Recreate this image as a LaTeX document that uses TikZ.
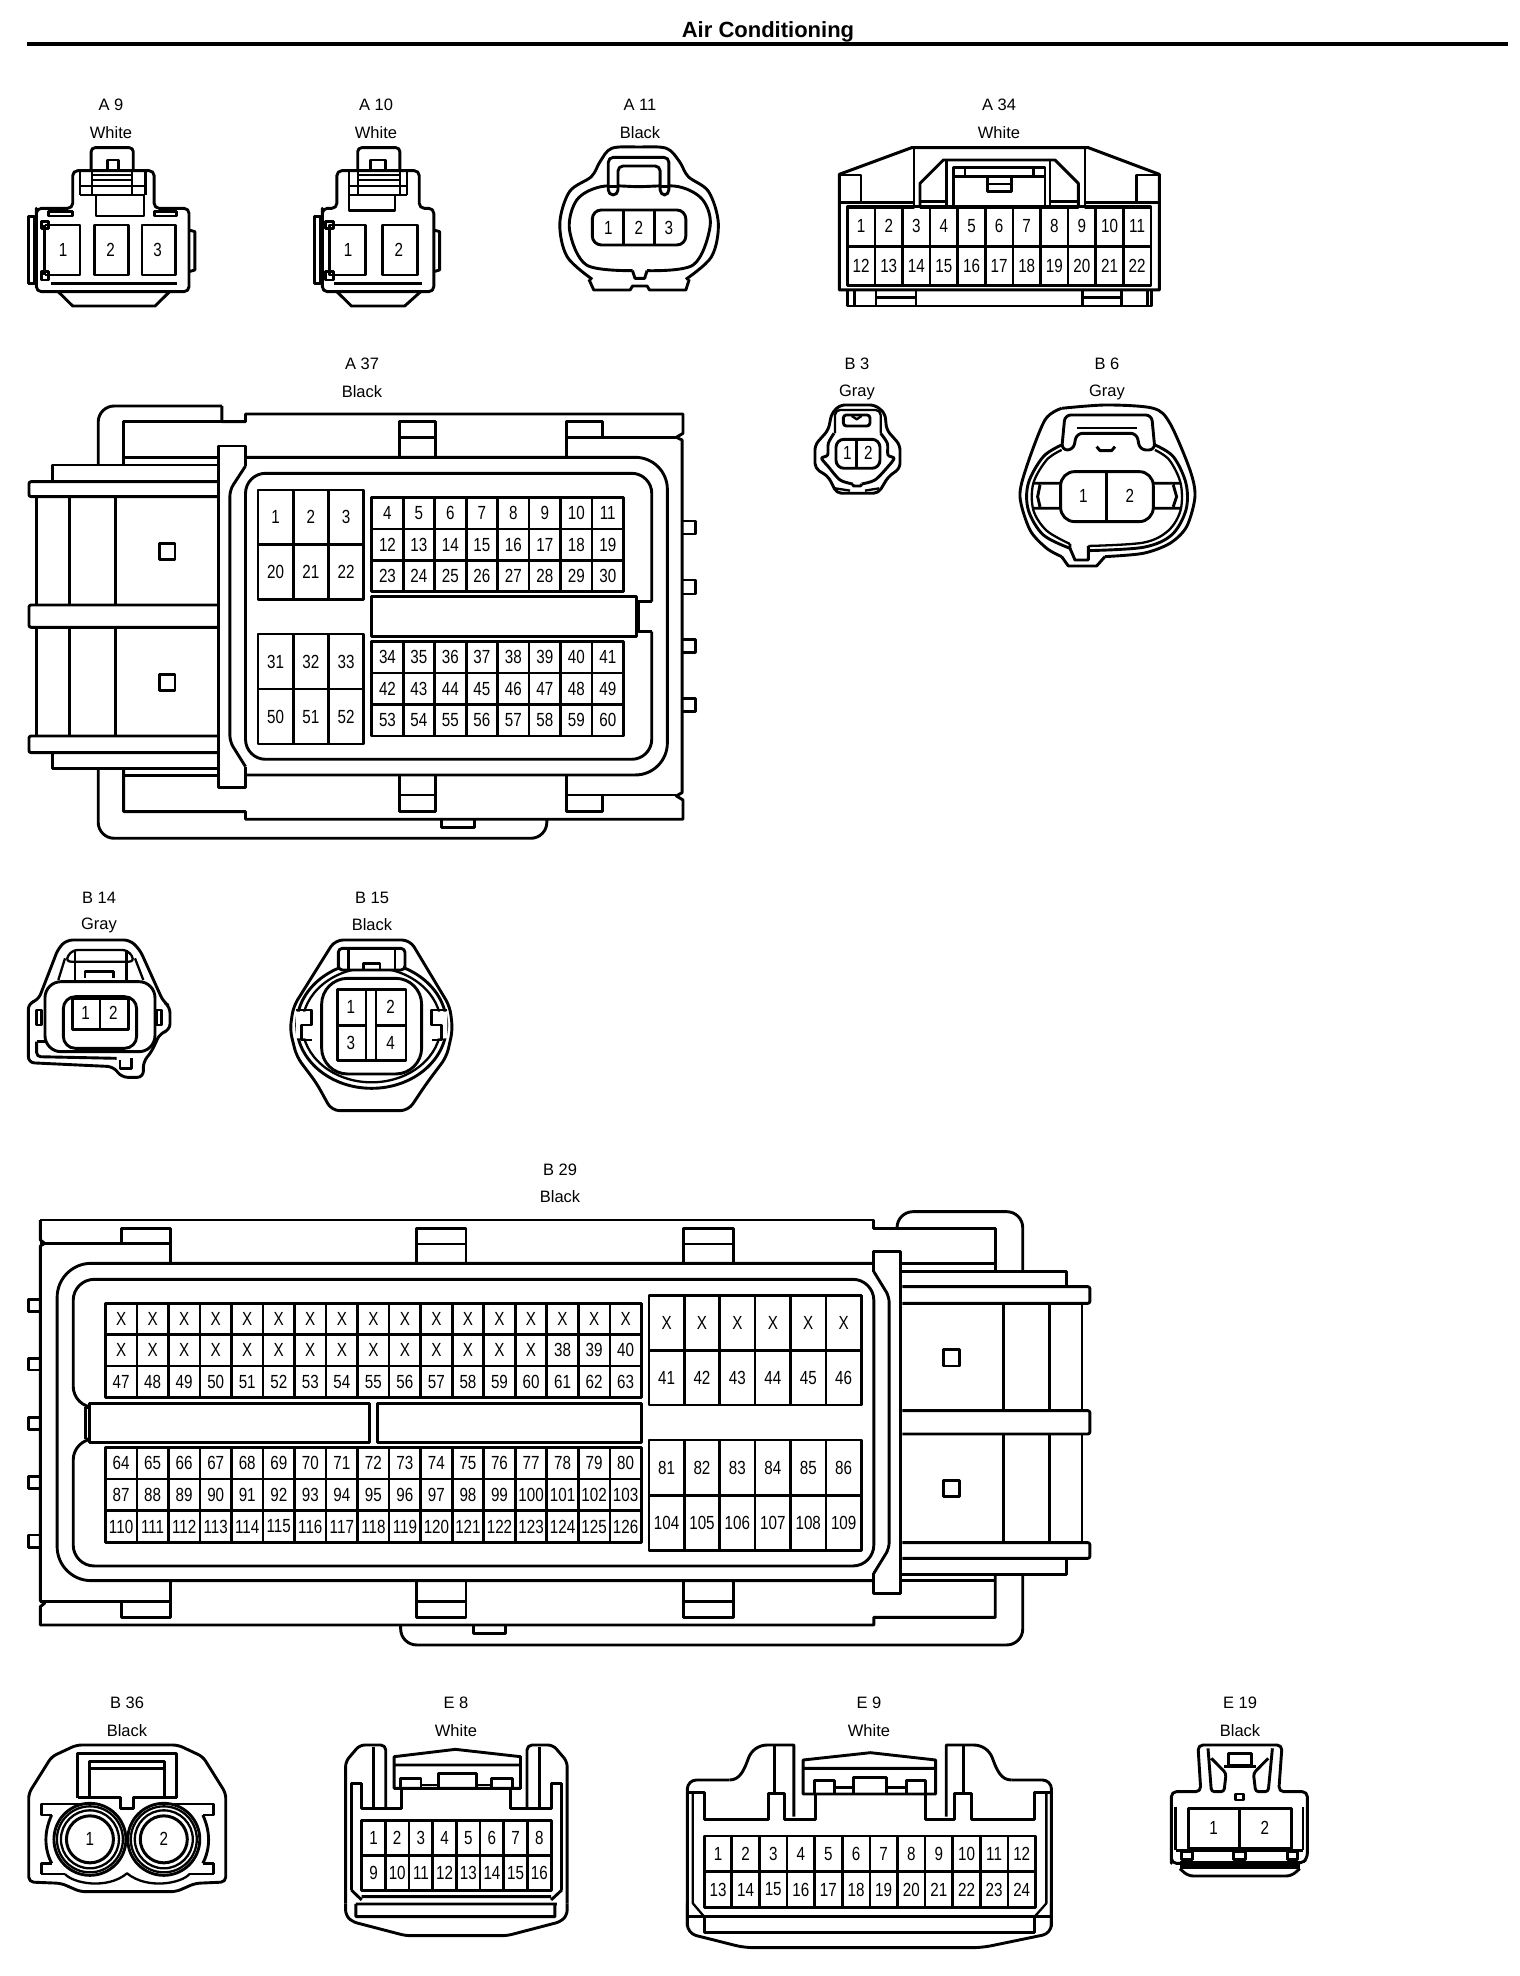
\documentclass[tikz,border=0pt]{standalone}
\usepackage{fontspec}
\setmainfont{Liberation Sans}
\newfontfamily\pinfont[FakeStretch=0.8]{Liberation Sans}
\newcommand{\fxv}{3}
\newcommand{\pingrid}[7]{%
  \foreach \lab [count=\i from 0] in {#7} {%
    \pgfmathtruncatemacro\cx{mod(\i,#6)}%
    \pgfmathtruncatemacro\cy{div(\i,#6)}%
    \node[pincell,minimum width={#4/\fxv*1pt},minimum height={#5/3*1pt}] (#1c\i) at ({#2+\cx*#4},{#3+\cy*#5}) {\lab};
  }}
\newcommand{\conlab}[6]{%
  \node[conlabel] (#1id) at (#2,#3) {#5};
  \node[conlabel] (#1col) at (#2,#4) {#6};}
\tikzset{
  conlabel/.style={font=\fontsize{16.5}{16.5}\selectfont,inner sep=0pt},
  pintext/.style={font=\pinfont\fontsize{19}{19}\selectfont,inner sep=0pt},
  pincell/.style={draw,pintext,outer sep=0pt,line width=2.7pt},
  zs/.style n args={3}{x=#1pt,y=-0.3333pt,shift={(#2pt,-#3pt)}},
  thin2/.style={line width=2.3pt}
}
\begin{document}
\begin{tikzpicture}[x=1pt,y=-1pt,line width=2.9pt,line join=round]
\useasboundingbox (0,0) rectangle (1520,1976);
\fill[white] (0,0) rectangle (1520,1976);
% title
\node[font=\bfseries\fontsize{22}{22}\selectfont,inner sep=0pt] (title) at (768,32) {Air Conditioning};
\draw[line width=4.6pt] (27,44) -- (1508,44);
% labels
\conlab{a9}{111}{105}{133}{A 9}{White}
\conlab{a10}{376}{105}{133}{A 10}{White}
\conlab{a11}{640}{105}{133}{A 11}{Black}
\conlab{a34}{999}{105}{133}{A 34}{White}
\conlab{a37}{362}{364}{392}{A 37}{Black}
\conlab{b3}{857}{364}{392}{B 3}{Gray}
\conlab{b6}{1107}{364}{392}{B 6}{Gray}
\conlab{b14}{99}{898}{925}{B 14}{Gray}
\conlab{b15}{372}{898}{925}{B 15}{Black}
\conlab{b29}{560}{1170}{1197}{B 29}{Black}
\conlab{b36}{127}{1703}{1731}{B 36}{Black}
\conlab{e8}{456}{1703}{1731}{E 8}{White}
\conlab{e9}{869}{1703}{1731}{E 9}{White}
\conlab{e19}{1240}{1703}{1731}{E 19}{Black}

% ---------- A9, A10, A11
\begin{scope}[zs={0.4847}{0}{80}]
% A9
\draw[rounded corners=5pt] (75,400) -- (75,385) -- (150,385) -- (150,272) -- (318,272) -- (318,385) -- (390,385) -- (390,635) -- (75,635) -- cycle;
\draw[rounded corners=4pt] (188,272) -- (188,203) -- (275,203) -- (275,272);
\draw (222,272) -- (222,240) -- (245,240) -- (245,272);
\draw[thin2] (190,285) -- (272,285) (190,300) -- (272,300) (165,318) -- (300,318) (165,272) -- (165,345) (190,272) -- (190,345) (272,272) -- (272,345) (300,272) -- (300,345);
\draw (165,345) -- (300,345) (198,345) -- (198,408) -- (297,408) -- (297,345);
\draw (100,395) rectangle (150,408) (318,395) rectangle (365,408);
\draw (92,435) -- (165,435) -- (165,585) -- (92,585);
\draw (92,435) -- (92,585);
\draw (195,435) rectangle (265,585) (293,435) rectangle (362,585);
\draw (85,425) rectangle (100,445) (85,575) rectangle (100,600);
\draw (58,410) rectangle (72,610);
\draw (390,450) -- (402,455) -- (402,570) -- (390,575);
\draw (105,610) -- (365,610);
\draw (120,635) -- (150,678) -- (320,678) -- (350,635);
\node[pintext] (a9p1) at (130,510) {1};
\node[pintext] (a9p2) at (228,510) {2};
\node[pintext] (a9p3) at (325,510) {3};
% A10
\draw[rounded corners=5pt] (665,400) -- (665,385) -- (695,385) -- (695,272) -- (865,272) -- (865,385) -- (895,385) -- (895,635) -- (665,635) -- cycle;
\draw[rounded corners=4pt] (738,272) -- (738,203) -- (825,203) -- (825,272);
\draw (765,272) -- (765,240) -- (795,240) -- (795,272);
\draw[thin2] (738,285) -- (825,285) (738,300) -- (825,300) (720,318) -- (840,318) (720,272) -- (720,345) (738,272) -- (738,345) (825,272) -- (825,345) (840,272) -- (840,345);
\draw (720,345) -- (840,345) (720,345) -- (720,392) -- (815,392) -- (815,345);
\draw (680,435) -- (755,435) -- (755,585) -- (680,585) -- cycle;
\draw (790,435) rectangle (862,585);
\draw (672,425) rectangle (688,445) (672,575) rectangle (688,600);
\draw (648,410) rectangle (662,610);
\draw (895,450) -- (907,455) -- (907,570) -- (895,575);
\draw (690,610) -- (870,610);
\draw (695,635) -- (725,678) -- (835,678) -- (868,635);
\node[pintext] (a10p1) at (718,510) {1};
\node[pintext] (a10p2) at (823,510) {2};
% A11
\draw plot[smooth,tension=.55] coordinates {(1222,598) (1170,530) (1155,430) (1175,335) (1220,290) (1238,245) (1262,205) (1318,201) (1375,205) (1402,245) (1420,290) (1462,335) (1482,430) (1468,530) (1415,598)};
\draw (1215,598) -- (1225,630) -- (1300,630) -- (1305,618) -- (1335,618) -- (1340,630) -- (1415,630) -- (1422,598);
\draw plot[smooth,tension=.55] coordinates {(1305,572) (1210,555) (1175,450) (1190,360) (1240,320) (1318,320) (1400,320) (1450,360) (1465,440) (1430,555) (1335,572)};
\draw (1305,572) -- (1310,595) -- (1330,595) -- (1335,572);
\draw[rounded corners=5pt,fill=white] (1255,345) -- (1255,232) -- (1380,232) -- (1380,345) -- (1362,345) -- (1362,258) -- (1275,258) -- (1275,345) -- cycle;
\draw (1255,320) -- (1275,320) (1362,320) -- (1380,320);
\draw[rounded corners=9pt] (1222,390) rectangle (1415,495);
\draw (1287,390) -- (1287,495) (1350,390) -- (1350,495);
\node[pintext] (a11p1) at (1255,443) {1};
\node[pintext] (a11p2) at (1318,443) {2};
\node[pintext] (a11p3) at (1380,443) {3};
\end{scope}

% ---------- A34, B3, B6
\begin{scope}[zs={0.3333}{760}{80}]
% A34
\draw[line width=3pt] (238,630) -- (238,283) -- (455,203) -- (985,203) -- (1198,283) -- (1198,630) -- cycle;
\draw (238,285) -- (303,285) -- (303,368) (238,368) -- (462,368) (1198,285) -- (1130,285) -- (1130,368) (975,368) -- (1198,368);
\draw (462,205) -- (462,382) -- (262,382) (975,205) -- (975,382) -- (1172,382);
\draw (480,382) -- (480,310) -- (550,240) -- (885,240) -- (955,310) -- (955,382) -- (480,382);
\draw (560,240) -- (560,375) (870,240) -- (870,375) (480,365) -- (560,365) (870,365) -- (955,365);
\draw (580,375) -- (580,263) -- (855,263) -- (855,375) (580,290) -- (855,290) (615,263) -- (615,290) (820,263) -- (820,290);
\draw (683,290) -- (683,335) -- (755,335) -- (755,290) (683,312) -- (755,312);
\def\fxv{3}
\pingrid{a34}{303.4}{439}{82.8}{119}{11}{1,2,3,4,5,6,7,8,9,10,11,12,13,14,15,16,17,18,19,20,21,22}
\draw (262,630) -- (262,678) -- (1175,678) -- (1175,630);
\draw (283,630) -- (283,678) (348,630) -- (348,678) (468,630) -- (468,678) (968,630) -- (968,678) (1085,630) -- (1085,678) (1162,630) -- (1162,678) (348,652) -- (468,652) (968,652) -- (1085,652);
% B3
\draw[rounded corners=5pt] (215,1000) -- (240,975) -- (345,975) -- (375,1000) -- (380,1050) -- (420,1095) -- (420,1165) -- (385,1190) -- (355,1240) -- (230,1240) -- (205,1190) -- (165,1165) -- (165,1095) -- (205,1050) -- cycle;
\draw[rounded corners=5pt,thin2] (225,1060) -- (225,990) -- (362,990) -- (362,1060);
\draw[rounded corners=3pt] (250,1005) rectangle (330,1038);
\draw[thin2] (275,1008) -- (290,1018) -- (305,1008);
\draw plot[smooth,tension=.5] coordinates {(222,1060) (205,1090) (203,1125) (185,1135) (205,1160) (240,1200) (278,1212)};
\draw plot[smooth,tension=.5] coordinates {(362,1060) (382,1090) (384,1125) (402,1135) (384,1160) (345,1200) (305,1212)};
\draw (278,1212) -- (280,1218) -- (302,1218) -- (305,1212);
\draw[rounded corners=8pt] (228,1078) rectangle (360,1165);
\draw (290,1078) -- (290,1165);
\draw[thin2] (225,1225) -- (270,1232) (315,1232) -- (358,1225);
\node[pintext] (b3p1) at (262,1120) {1};
\node[pintext] (b3p2) at (325,1120) {2};
% B6
\draw plot[smooth,tension=.5] coordinates {(905,985) (1040,975) (1180,985) (1230,1030) (1290,1170) (1305,1250) (1280,1340) (1230,1390) (1150,1420) (1035,1430)};
\draw plot[smooth,tension=.5] coordinates {(905,985) (855,1020) (800,1160) (780,1250) (810,1350) (860,1405) (905,1430)};
\draw (905,1430) -- (925,1458) -- (1010,1458) -- (1035,1430);
\draw plot[smooth,tension=.55] coordinates {(985,1412) (1150,1402) (1235,1365) (1278,1290) (1278,1210) (1240,1130) (1185,1095)};
\draw plot[smooth,tension=.55] coordinates {(905,1095) (850,1130) (805,1210) (805,1290) (850,1365) (930,1405)};
\draw[thin2] plot[smooth,tension=.55] coordinates {(985,1398) (1150,1388) (1225,1352) (1262,1290) (1262,1210) (1228,1140) (1185,1110)};
\draw[thin2] plot[smooth,tension=.55] coordinates {(905,1110) (860,1140) (820,1210) (820,1290) (860,1352) (930,1392)};
\draw (930,1405) -- (945,1440) -- (985,1440) -- (985,1412) (930,1392) -- (930,1405) (985,1398) -- (985,1412);
\draw[rounded corners=6pt,fill=white] (905,1110) -- (915,1005) -- (1175,1005) -- (1185,1110) -- (1140,1110) -- (1130,1060) -- (950,1060) -- (940,1110) -- cycle;
\draw[thin2] (950,1045) -- (1130,1045);
\draw (1010,1100) -- (1020,1112) -- (1055,1112) -- (1065,1100);
\draw (820,1210) -- (900,1210) (820,1285) -- (900,1285) (1262,1210) -- (1180,1210) (1262,1285) -- (1180,1285) (840,1215) -- (833,1250) -- (840,1280) (1240,1215) -- (1250,1250) -- (1240,1280);
\draw[rounded corners=14pt,fill=white] (902,1175) rectangle (1180,1325);
\draw (1040,1175) -- (1040,1325);
\node[pintext] (b6p1) at (970,1248) {1};
\node[pintext] (b6p2) at (1110,1248) {2};
\end{scope}

% ---------- A37
\begin{scope}[zs={0.4464}{0}{340}]
\def\fxv{2.24}
\draw[rounded corners=16pt] (220,375) -- (220,198) -- (497,198);
\draw (497,198) -- (497,245) -- (550,245) -- (550,222) -- (1530,222) -- (1530,280) -- (1515,292) -- (1528,300) -- (1528,1358) -- (1515,1368) -- (1530,1380) -- (1530,1438) -- (550,1438) -- (550,1415) -- (277,1415) -- (277,1285);
\draw[rounded corners=16pt] (220,1285) -- (220,1495) -- (1225,1495) -- (1225,1438);
\draw (990,1438) -- (990,1462) -- (1062,1462) -- (1062,1438);
\draw (277,375) -- (277,245) -- (497,245) (277,352) -- (490,352) (277,1307) -- (490,1307);
\draw (490,375) -- (118,375) -- (118,425) (118,1240) -- (118,1285) -- (490,1285);
\draw[rounded corners=2pt] (490,425) -- (65,425) -- (65,470) -- (490,470);
\draw[rounded corners=2pt] (490,795) -- (65,795) -- (65,862) -- (490,862);
\draw[rounded corners=2pt] (490,1188) -- (65,1188) -- (65,1238) -- (490,1238);
\draw (82,470) -- (82,795) (82,862) -- (82,1188) (155,470) -- (155,795) (155,862) -- (155,1188) (258,470) -- (258,795) (258,862) -- (258,1188);
\draw (358,610) rectangle (392,658) (358,1003) rectangle (392,1052);
\draw (550,378) -- (550,318) -- (490,318) -- (490,1342) -- (550,1342) -- (550,1280);
\draw[rounded corners=6pt] (550,378) -- (515,450) -- (515,1205) -- (550,1280);
\draw[rounded corners=32pt] (550,352) -- (1495,352) -- (1495,1305) -- (550,1305);
\draw[rounded corners=20pt] (1460,785) -- (1460,400) -- (550,400) -- (550,1258) -- (1460,1258) -- (1460,875);
\draw (1460,785) -- (1430,785) -- (1430,875) -- (1460,875);
\draw (895,352) -- (895,245) -- (975,245) -- (975,352) (895,292) -- (975,292);
\draw (1270,352) -- (1270,245) -- (1350,245) -- (1350,292) (1270,292) -- (1515,292);
\draw (895,1305) -- (895,1415) -- (975,1415) -- (975,1305) (895,1365) -- (975,1365);
\draw (1270,1305) -- (1270,1415) -- (1350,1415) -- (1350,1365) (1270,1365) -- (1515,1365);
\draw (1530,543) -- (1558,543) -- (1558,582) -- (1530,582) (1530,720) -- (1558,720) -- (1558,762) -- (1530,762) (1530,898) -- (1558,898) -- (1558,938) -- (1530,938) (1530,1075) -- (1558,1075) -- (1558,1115) -- (1530,1115);
\pingrid{a37a}{617.5}{532}{79}{164}{3}{1,2,3,20,21,22}
\pingrid{a37b}{617.5}{965}{79}{165}{3}{31,32,33,50,51,52}
\pingrid{a37c}{868}{520}{70.5}{94}{8}{4,5,6,7,8,9,10,11,12,13,14,15,16,17,18,19,23,24,25,26,27,28,29,30}
\pingrid{a37d}{868}{952}{70.5}{94.3}{8}{34,35,36,37,38,39,40,41,42,43,44,45,46,47,48,49,53,54,55,56,57,58,59,60}
\draw (833,770) rectangle (1425,890);
\end{scope}

% ---------- B14, B15
\begin{scope}[zs={0.3333}{0}{870}]
\def\fxv{3}
\draw[rounded corners=6pt] (115,390) -- (175,235) -- (200,210) -- (390,210) -- (420,240) -- (490,395) -- (510,410) -- (510,480) -- (480,490) -- (455,545) -- (430,575) -- (430,622) -- (365,622) -- (340,590) -- (85,578) -- (85,400) -- cycle;
\draw[rounded corners=4pt] (110,515) -- (110,560) -- (350,565);
\draw (110,515) -- (135,515);
\draw[thin2] (175,330) -- (195,265) (405,265) -- (430,330);
\draw[rounded corners=6pt,thin2] (195,275) -- (215,240) -- (385,240) -- (405,275) -- cycle;
\draw (225,240) -- (225,330) (380,240) -- (380,330) (255,325) -- (255,305) -- (340,305) -- (340,325);
\draw (110,420) -- (125,420) -- (125,465) -- (110,465) -- cycle (470,420) -- (485,420) -- (485,465) -- (470,465) -- cycle;
\draw (360,570) -- (360,595) -- (395,595) -- (395,565);
\draw[rounded corners=16pt,fill=white] (135,335) rectangle (465,545);
\draw[rounded corners=12pt] (190,380) rectangle (410,535);
\draw[fill=white] (218,385) rectangle (385,478);
\draw (300,385) -- (300,478);
\node[pintext] (b14p1) at (257,430) {1};
\node[pintext] (b14p2) at (340,430) {2};
% B15
\draw[rounded corners=8pt] (1005,210) -- (1230,210) -- (1350,410) -- (1358,480) -- (1340,560) -- (1280,640) -- (1225,722) -- (995,722) -- (950,640) -- (890,560) -- (870,480) -- (880,410) -- cycle;
\draw[fill=white] (1115,465) ellipse [x radius=225,y radius=190];
\draw[thin2] (1115,465) ellipse [x radius=208,y radius=172];
\draw[fill=white,draw=none] (888,425) rectangle (925,505) (1305,425) rectangle (1342,505);
\draw (888,420) -- (935,420) -- (935,465) -- (905,465) -- (905,510) -- (935,510) (1342,420) -- (1295,420) -- (1295,465) -- (1325,465) -- (1325,510) -- (1295,510);
\draw[rounded corners=26pt,fill=white] (965,325) rectangle (1265,612);
\draw[rounded corners=4pt,fill=white] (1015,235) rectangle (1215,300);
\draw (1045,235) -- (1045,300) (1185,235) -- (1185,300) (1090,280) rectangle (1140,300);
\draw (1012,358) rectangle (1218,572) (1012,467) -- (1098,467) (1128,467) -- (1218,467) (1098,358) -- (1098,572) (1128,358) -- (1128,572);
\node[pintext] (b15p1) at (1053,410) {1};
\node[pintext] (b15p2) at (1172,410) {2};
\node[pintext] (b15p3) at (1053,518) {3};
\node[pintext] (b15p4) at (1172,518) {4};
\end{scope}

% ---------- B29
\begin{scope}[zs={0.3571}{0}{1140}]
\def\fxv{2.8}
\draw (113,240) -- (113,300) -- (125,310) -- (113,318) -- (113,1382) -- (125,1390) -- (113,1400) -- (113,1455) -- (2447,1455) -- (2447,1432) -- (2787,1432) -- (2787,1305);
\draw (113,240) -- (2447,240) -- (2447,265) -- (2512,265);
\draw[rounded corners=16pt] (2512,265) -- (2512,215) -- (2864,215) -- (2864,395);
\draw[rounded corners=16pt] (1122,1455) -- (1122,1515) -- (2864,1515) -- (2864,1305);
\draw (1327,1455) -- (1327,1480) -- (1415,1480) -- (1415,1455);
\draw (2447,265) -- (2787,265) -- (2787,395) (2527,370) -- (2787,370) (2527,1322) -- (2787,1322);
\draw (2447,395) -- (2447,335) -- (2522,335) -- (2522,1360) -- (2447,1360) -- (2447,1300);
\draw[rounded corners=6pt] (2447,395) -- (2490,470) -- (2490,1225) -- (2447,1300);
\draw[rounded corners=34pt] (2447,370) -- (160,370) -- (160,1322) -- (2447,1322);
\draw[rounded corners=21pt] (240,802) -- (205,802) -- (205,418) -- (2447,418) -- (2447,1278) -- (205,1278) -- (205,897) -- (240,897);
\draw (240,802) -- (240,897);
\draw (478,370) -- (478,265) -- (340,265) -- (340,310) (113,310) -- (478,310);
\draw (1167,370) -- (1167,265) -- (1305,265) -- (1305,370) (1167,312) -- (1305,312);
\draw (1914,370) -- (1914,265) -- (2054,265) -- (2054,370) (1914,312) -- (2054,312);
\draw (478,1322) -- (478,1432) -- (340,1432) -- (340,1385) (113,1385) -- (478,1385);
\draw (1167,1322) -- (1167,1432) -- (1305,1432) -- (1305,1322) (1167,1385) -- (1305,1385);
\draw (1914,1322) -- (1914,1432) -- (2054,1432) -- (2054,1322) (1914,1385) -- (2054,1385);
\draw (113,478) -- (80,478) -- (80,515) -- (113,515) (113,655) -- (80,655) -- (80,690) -- (113,690) (113,832) -- (80,832) -- (80,868) -- (113,868) (113,1010) -- (80,1010) -- (80,1045) -- (113,1045) (113,1185) -- (80,1185) -- (80,1222) -- (113,1222);
\draw[fill=white] (250,790) rectangle (1035,908) (1057,790) rectangle (1797,908);
\pingrid{b29a}{339.15}{537}{88.3}{94}{17}{X,X,X,X,X,X,X,X,X,X,X,X,X,X,X,X,X,X,X,X,X,X,X,X,X,X,X,X,X,X,X,38,39,40,47,48,49,50,51,52,53,54,55,56,57,58,59,60,61,62,63}
\pingrid{b29b}{339.15}{969.5}{88.3}{95}{17}{64,65,66,67,68,69,70,71,72,73,74,75,76,77,78,79,80,87,88,89,90,91,92,93,94,95,96,97,98,99,100,101,102,103,110,111,112,113,114,115,116,117,118,119,120,121,122,123,124,125,126}
\pingrid{b29c}{1866.6}{549}{99.2}{164}{6}{X,X,X,X,X,X,41,42,43,44,45,46}
\pingrid{b29d}{1866.6}{983}{99.2}{166}{6}{81,82,83,84,85,86,104,105,106,107,108,109}
\draw (2527,395) -- (2987,395) -- (2987,440);
\draw (2527,1303) -- (2987,1303) -- (2987,1255);
\draw[rounded corners=2pt] (2527,440) -- (3052,440) -- (3052,490) -- (2527,490);
\draw[rounded corners=2pt] (2527,812) -- (3052,812) -- (3052,882) -- (2527,882);
\draw[rounded corners=2pt] (2527,1208) -- (3052,1208) -- (3052,1255) -- (2527,1255);
\draw (2810,490) -- (2810,812) (2810,882) -- (2810,1208) (2940,490) -- (2940,812) (2940,882) -- (2940,1208) (3030,490) -- (3030,812) (3030,882) -- (3030,1208);
\draw (2642,628) rectangle (2687,678) (2642,1022) rectangle (2687,1070);
\end{scope}

% ---------- B36, E8
\begin{scope}[zs={0.3827}{0}{1670}]
\def\fxv{2.613}
\draw[rounded corners=5pt] (75,370) -- (135,260) -- (200,225) -- (465,225) -- (530,260) -- (590,370) -- (590,636) -- (510,640) -- (460,665) -- (210,665) -- (160,640) -- (75,636) -- cycle;
\draw (203,385) -- (203,250) -- (462,250) -- (462,385) (235,380) -- (235,275) -- (430,275) -- (430,380) (235,295) -- (430,295);
\draw (203,382) -- (315,382) -- (315,415) -- (350,415) -- (350,382) -- (462,382);
\draw (210,402) -- (108,402) -- (108,435) -- (135,435) (108,612) -- (170,612) (108,612) -- (108,580) -- (135,580) (455,402) -- (558,402) -- (558,435) -- (530,435) (558,612) -- (495,612) (558,612) -- (558,580) -- (530,580);
\draw (135,435) .. controls (115,485) and (115,535) .. (135,580) (530,435) .. controls (550,485) and (550,535) .. (530,580);
\draw[thin2] (170,612) .. controls (190,640) and (280,660) .. (332,610) .. controls (385,660) and (475,640) .. (495,612);
\foreach \cxx/\nm in {235/c,428/d} {
 \draw[fill=white] (\cxx,508) circle [radius=36pt];
 \draw[thin2] (\cxx,508) circle [radius=33pt];
 \draw[thin2] (\cxx,508) circle [radius=29pt];
 \draw[line width=3pt] (\cxx,508) circle [radius=23.5pt];
}
\node[pintext] (b36p1) at (235,508) {1};
\node[pintext] (b36p2) at (428,508) {2};
% E8
\draw[rounded corners=5pt] (903,700) -- (903,275) -- (940,225) -- (1008,225) -- (1008,415);
\draw[rounded corners=5pt] (1482,700) -- (1482,275) -- (1445,225) -- (1377,225) -- (1377,415);
\draw (975,232) -- (975,412) (1410,232) -- (1410,412);
\draw (918,660) -- (918,340) -- (945,340) -- (945,415) -- (1050,415) -- (1050,360);
\draw (1468,660) -- (1468,340) -- (1440,340) -- (1440,415) -- (1335,415) -- (1335,360);
\draw (1030,355) -- (1030,260) -- (1190,238) -- (1360,260) -- (1360,355) -- cycle (1030,285) -- (1360,285);
\draw (1047,355) -- (1047,325) -- (1100,325) -- (1100,355) (1100,345) -- (1145,345) (1145,355) -- (1145,310) -- (1245,310) -- (1245,355) (1245,345) -- (1285,345) (1285,355) -- (1285,325) -- (1340,325) -- (1340,355);
\pingrid{e8}{976}{504.5}{61.9}{105}{8}{1,2,3,4,5,6,7,8,9,10,11,12,13,14,15,16}
\draw (918,660) -- (945,690) (1468,660) -- (1440,690) (945,680) -- (1440,680) (930,702) -- (1455,702) (930,702) -- (930,740) -- (1450,740) -- (1450,702);
\draw[rounded corners=5pt] (903,700) -- (903,735) -- (920,755) -- (1060,797) -- (1325,797) -- (1465,755) -- (1482,735) -- (1482,700);
\end{scope}

% ---------- E9, E19
\begin{scope}[zs={0.4209}{660}{1670}]
\def\fxv{2.376}
\draw[rounded corners=9pt] (65,770) -- (65,330) -- (165,330);
\draw[rounded corners=9pt] (65,700) -- (65,790) -- (200,833) -- (765,833) -- (930,790) -- (930,700);
\draw (165,330) .. controls (190,330) and (200,300) .. (210,265) .. controls (217,240) and (235,225) .. (255,225) -- (318,225) -- (318,440);
\draw[rounded corners=9pt] (930,770) -- (930,330) -- (835,330);
\draw (835,330) .. controls (810,330) and (800,300) .. (790,265) .. controls (783,240) and (765,225) .. (745,225) -- (680,225) -- (680,440);
\draw (272,225) -- (272,370) (720,225) -- (720,370);
\draw (65,368) -- (105,368) -- (105,448) -- (258,448) -- (258,370) -- (295,370) -- (295,448) -- (370,448) -- (370,375);
\draw (930,368) -- (890,368) -- (890,448) -- (740,448) -- (740,370) -- (700,370) -- (700,448) -- (630,448) -- (630,375);
\draw (340,372) -- (340,270) -- (500,248) -- (655,270) -- (655,372) -- cycle (340,295) -- (655,295);
\draw (368,370) -- (368,332) -- (415,332) -- (415,368) (415,352) -- (460,352) (460,368) -- (460,322) -- (538,322) -- (538,368) (538,352) -- (585,352) (585,368) -- (585,332) -- (630,332) -- (630,368);
\pingrid{e9}{137.8}{551.5}{65.6}{107}{12}{1,2,3,4,5,6,7,8,9,10,11,12,13,14,15,16,17,18,19,20,21,22,23,24}
\draw[thin2] (78,368) -- (78,700) -- (105,740) (918,368) -- (918,700) -- (890,740);
\draw (65,740) -- (930,740) (105,745) -- (105,788) -- (890,788) -- (890,745);
% E19
\draw[rounded corners=5pt] (1215,565) -- (1215,365) -- (1285,365) -- (1278,225) -- (1478,225) -- (1470,365) -- (1538,365) -- (1538,565) -- (1525,580) -- (1215,580) -- cycle;
\draw[rounded corners=3pt] (1302,235) -- (1310,365) -- (1340,365) -- (1345,310) -- (1310,265);
\draw[rounded corners=3pt] (1455,235) -- (1445,365) -- (1415,365) -- (1410,310) -- (1445,265);
\draw (1350,250) rectangle (1405,285) (1340,290) -- (1415,290);
\draw (1367,372) rectangle (1387,390);
\draw (1255,415) rectangle (1500,535) (1377,415) -- (1377,535);
\draw[thin2] (1225,410) -- (1225,540) (1528,410) -- (1528,540);
\draw (1225,542) -- (1528,542);
\fill (1235,572) rectangle (1520,596);
\draw[rounded corners=5pt] (1235,596) -- (1255,618) -- (1500,618) -- (1520,596);
\draw[fill=white] (1240,545) rectangle (1265,568) (1362,545) rectangle (1392,568) (1490,545) rectangle (1515,568);
\node[pintext] (e19p1) at (1315,475) {1};
\node[pintext] (e19p2) at (1437,475) {2};
\end{scope}
\end{tikzpicture}
\end{document}
